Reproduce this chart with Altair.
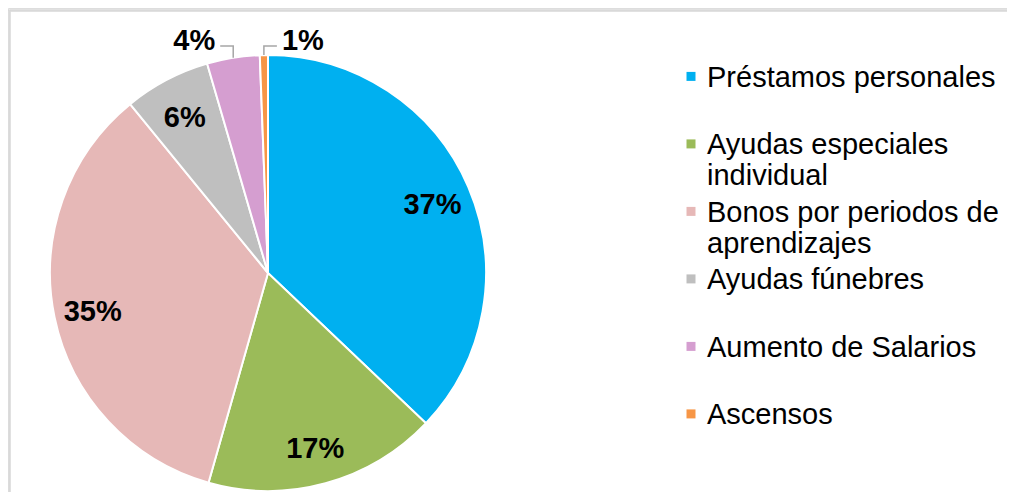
import math
import altair as alt
import pandas as pd

# ---- data ----
categories = [
    "Préstamos personales",
    "Ayudas especiales individual",
    "Bonos por periodos de aprendizajes",
    "Ayudas fúnebres",
    "Aumento de Salarios",
    "Ascensos",
]
values = [37.1, 17.3, 34.7, 6.4, 3.9, 0.6]
colors = ["#00B0F0", "#9BBB59", "#E6B8B7", "#BFBFBF", "#D59ED0", "#F79646"]
legend_lines = [
    ["Préstamos personales"],
    ["Ayudas especiales", "individual"],
    ["Bonos por periodos de", "aprendizajes"],
    ["Ayudas fúnebres"],
    ["Aumento de Salarios"],
    ["Ascensos"],
]
outside_side = {"Aumento de Salarios": -1, "Ascensos": 1}

# ---- layout / style ----
W, H = 999, 484
CX, CY = 260, 265
R = 218
R_LABEL = 179
RISE, RUN, GAP = 9, 13, 3
FONT = "Liberation Sans"
BORDER = "#D9D9D9"

df = pd.DataFrame({"category": categories, "value": values, "idx": list(range(len(values)))})
df["label"] = [f"{round(v)}%" for v in values]
df["inlabel"] = [lab if c not in outside_side else "" for c, lab in zip(categories, df["label"])]

# outside labels and leader lines, derived from slice mid angles
total = sum(values)
cum = 0.0
leader_rows, out_rows = [], []
for c, v, lab in zip(categories, values, df["label"]):
    mid = (cum + v / 2) / total * 2 * math.pi
    cum += v
    if c not in outside_side:
        continue
    s = outside_side[c]
    x0, y0 = R * math.sin(mid), R * math.cos(mid)
    pts = [(x0, y0), (x0, R + RISE), (x0 + s * RUN, R + RISE)]
    for k, (px, py) in enumerate(pts):
        leader_rows.append({"category": c, "k": k, "lx": px, "ly": py})
    out_rows.append({"category": c, "label": lab, "side": s,
                     "lx": x0 + s * (RUN + GAP + 2), "ly": R + RISE + 5})
leaders = pd.DataFrame(leader_rows)
outs = pd.DataFrame(out_rows)

xscale = alt.Scale(domain=[-CX, W - CX], zero=False, nice=False)
yscale = alt.Scale(domain=[CY - H, CY], zero=False, nice=False)

# legend label wrapping expression
expr = "datum.label"
for c, lines in reversed(list(zip(categories, legend_lines))):
    arr = "[" + ",".join(f"'{t}'" for t in lines) + "]"
    expr = f"datum.label == '{c}' ? {arr} : ({expr})"

legend = alt.Legend(
    title=None, orient="none", legendX=668.5, legendY=64.3,
    symbolType="M-1,-3.31L1,-3.31L1,-1.31L-1,-1.31Z", symbolSize=81, symbolStrokeWidth=0,
    labelFont=FONT, labelFontSize=29, labelColor="#000000", labelBaseline="alphabetic",
    labelOffset=1.5, labelLimit=0, labelExpr=expr, gridAlign="all", rowPadding=6.5,
    padding=0,
)

base = alt.Chart(df)
pie = base.mark_arc(radius=R, stroke="white", strokeWidth=2).encode(
    theta=alt.Theta("value:Q", stack=True),
    order=alt.Order("idx:Q"),
    color=alt.Color("category:N", scale=alt.Scale(domain=categories, range=colors), legend=legend),
    x=alt.value(CX), y=alt.value(CY),
)
intext = base.mark_text(radius=R_LABEL, dy=3, font=FONT, fontSize=29, fontWeight="bold", color="black").encode(
    theta=alt.Theta("value:Q", stack=True),
    order=alt.Order("idx:Q"),
    text="inlabel:N",
    x=alt.value(CX), y=alt.value(CY),
)
lead = alt.Chart(leaders).mark_line(color="#A6A6A6", strokeWidth=1.5).encode(
    x=alt.X("lx:Q", scale=xscale, axis=None),
    y=alt.Y("ly:Q", scale=yscale, axis=None),
    detail="category:N",
    order="k:Q",
)
out_left = alt.Chart(outs).transform_filter("datum.side < 0").mark_text(
    align="right", baseline="middle", font=FONT, fontSize=29, fontWeight="bold", color="black"
).encode(x=alt.X("lx:Q", scale=xscale, axis=None), y=alt.Y("ly:Q", scale=yscale, axis=None), text="label:N")
out_right = alt.Chart(outs).transform_filter("datum.side > 0").mark_text(
    align="left", baseline="middle", font=FONT, fontSize=29, fontWeight="bold", color="black"
).encode(x=alt.X("lx:Q", scale=xscale, axis=None), y=alt.Y("ly:Q", scale=yscale, axis=None), text="label:N")

border_top = alt.Chart(df).mark_rule(color=BORDER, strokeWidth=1.5).encode(
    x=alt.value(1.5), x2=alt.value(W), y=alt.value(2.5))
border_left = alt.Chart(df).mark_rule(color=BORDER, strokeWidth=1.5).encode(
    x=alt.value(1.5), y=alt.value(2.5), y2=alt.value(H))

chart = alt.layer(border_top, border_left, pie, intext, lead, out_left, out_right).properties(
    width=W, height=H, autosize=alt.AutoSizeParams(type="none"), padding=0,
).configure_view(stroke=None).configure(background="white")

chart.save("out.html", embed_options={"renderer": "svg", "actions": False})
